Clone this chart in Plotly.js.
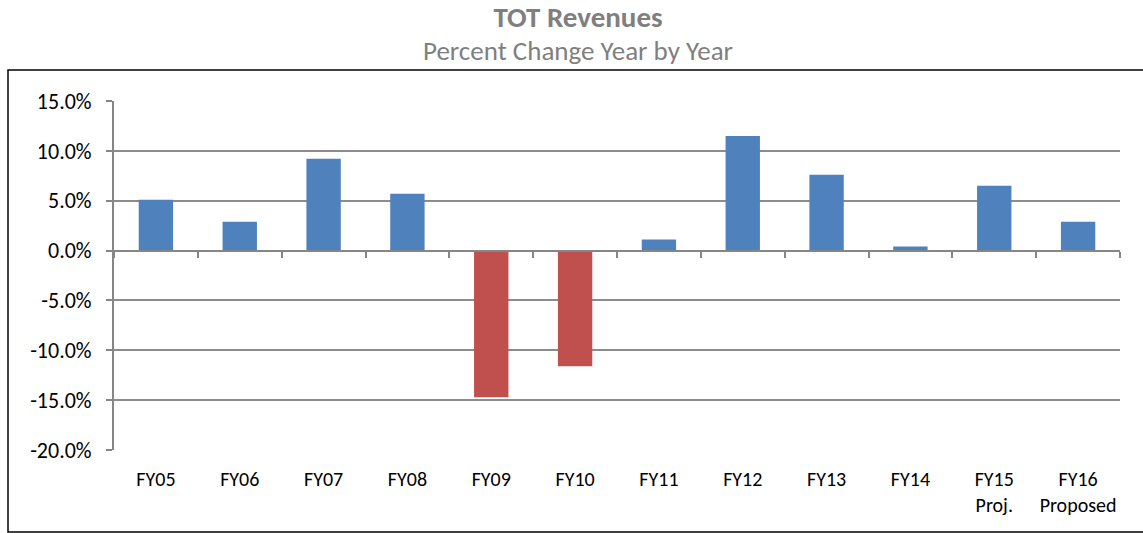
<!DOCTYPE html>
<html>
<head>
<meta charset="utf-8">
<script src="https://cdn.plot.ly/plotly-3.0.1.min.js"></script>
<style>html,body{margin:0;padding:0;background:#fff;}#chart{width:1143px;height:533px;}</style>
</head>
<body>
<div id="chart"></div>
<script>
const categories = ["FY05","FY06","FY07","FY08","FY09","FY10","FY11","FY12","FY13","FY14","FY15<br>Proj.","FY16<br>Proposed"];
const pctChange = [5.1, 2.9, 9.2, 5.7, -14.7, -11.6, 1.1, 11.5, 7.6, 0.4, 6.5, 2.9];
const yTickVals = [15, 10, 5, 0, -5, -10, -15, -20];
const yTickText = ["15.0%","10.0%","5.0%","0.0%","-5.0%","-10.0%","-15.0%","-20.0%"];
const titleText = "TOT Revenues";
const subtitleText = "Percent Change Year by Year";

const FONT = 'Carlito, "Liberation Sans Narrow", "Noto Sans", sans-serif';
const colors = pctChange.map(v => v < 0 ? '#c0504d' : '#4f81bd');

const traces = [
  {type:'bar', x:categories, y:pctChange, marker:{color:colors}, showlegend:false, hoverinfo:'x+y'},
  {type:'bar', x:categories, y:pctChange.map(()=>0), xaxis:'x2', showlegend:false, hoverinfo:'skip', marker:{color:'rgba(0,0,0,0)'}}
];

const W = 1143, H = 533, L = 114, R = 23, T = 101, B = 83;
const pw = W - L - R, ph = H - T - B;
const px = x => (x - L) / pw;
const py = y => (H - B - y) / ph;

const layout = {
  width: W, height: H,
  margin: {l:L, r:R, t:T, b:B},
  paper_bgcolor:'#fff', plot_bgcolor:'#fff',
  bargap: 0.59,
  font: {family: FONT, color:'#000'},
  xaxis: {
    type:'category', categoryorder:'array', categoryarray:categories,
    showgrid:false, zeroline:false, showline:false, ticks:'',
    tickfont:{size:20, family:FONT, color:'#000'},
    ticklabelstandoff: 15, fixedrange:true
  },
  xaxis2: {
    type:'category', categoryorder:'array', categoryarray:categories,
    overlaying:'x', anchor:'free', position: 20/35,
    showticklabels:false, showgrid:false, zeroline:false,
    showline:true, linecolor:'#868686', linewidth:2,
    ticks:'outside', tickson:'boundaries', ticklen:6, tickcolor:'#868686', tickwidth:2
  },
  yaxis: {
    range:[-20, 15], tickvals:yTickVals, ticktext:yTickText,
    showgrid:true, gridcolor:'#8c8c8c', gridwidth:2, zeroline:false,
    showline:true, linecolor:'#868686', linewidth:2,
    ticks:'outside', ticklen:6, tickcolor:'#868686', tickwidth:2,
    tickfont:{size:22, family:FONT, color:'#000'},
    ticklabelstandoff: 10, fixedrange:true
  },
  shapes: [
    {type:'rect', xref:'paper', yref:'paper', x0:px(8), x1:px(1150), y0:py(532), y1:py(70),
     line:{color:'#000', width:1.5}, fillcolor:'rgba(0,0,0,0)', layer:'below'}
  ],
  annotations: [
    {xref:'paper', yref:'paper', x:px(578), y:py(33), xanchor:'center', yanchor:'middle', align:'center',
     text:'<span style="font-size:29px"><b>' + titleText + '</b></span><br><span style="font-size:27px">' + subtitleText + '</span>',
     showarrow:false, font:{size:25, family:FONT, color:'#7f7f7f'}}
  ]
};

Plotly.newPlot('chart', traces, layout, {displayModeBar:false, staticPlot:true});
</script>
</body>
</html>
